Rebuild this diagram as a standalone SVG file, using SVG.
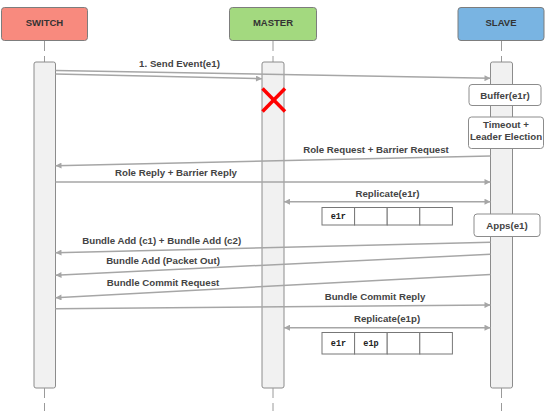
<svg xmlns="http://www.w3.org/2000/svg" width="546" height="416" viewBox="0 0 546 416">
<defs>
<marker id="ah" viewBox="0 0 10 10" refX="10" refY="5" markerWidth="9" markerHeight="6" markerUnits="userSpaceOnUse" orient="auto-start-reverse">
<path d="M0,0 L10,5 L0,10 z" fill="#a6a6a6"/>
</marker>
<style>
.hdr{stroke:#7d7d7d;stroke-width:1}
.ht{font-family:"Liberation Sans",Arial,sans-serif;font-weight:bold;font-size:9.5px;fill:#333;text-anchor:middle}
.life{stroke:#9a9a9a;stroke-width:1;stroke-dasharray:10 5}
.bar{fill:#f1f1f1;stroke:#8c8c8c;stroke-width:1}
.msg{stroke:#a6a6a6;stroke-width:1.5;fill:none}
.lbl{font-family:"Liberation Sans",Arial,sans-serif;font-weight:bold;font-size:9.7px;fill:#444;text-anchor:middle}
.box{fill:#fff;stroke:#8c8c8c;stroke-width:1}
.cell{fill:#fff;stroke:#777;stroke-width:1}
.mono{font-family:"Liberation Mono","DejaVu Sans Mono",monospace;font-weight:bold;font-size:8.5px;fill:#222;text-anchor:middle}
</style>
</defs>
<rect width="546" height="416" fill="#fff"/>

<g id="switch">
<rect class="hdr" x="1.5" y="7.5" width="86" height="33" rx="3" fill="#F88A7E"/>
<text class="ht" x="44.5" y="26">SWITCH</text>
<line class="life" x1="44.5" y1="41" x2="44.5" y2="62"/>
<rect class="bar" x="34" y="62" width="21.5" height="326" rx="2"/>
<line class="life" x1="44.5" y1="388" x2="44.5" y2="411"/>
</g>

<g id="master">
<rect class="hdr" x="229.5" y="7.5" width="87" height="33" rx="3" fill="#A3D97F"/>
<text class="ht" x="273" y="26">MASTER</text>
<line class="life" x1="273" y1="41" x2="273" y2="62"/>
<rect class="bar" x="262" y="62" width="22" height="326" rx="2"/>
<line class="life" x1="273" y1="388" x2="273" y2="411"/>
<g id="fail" stroke="#ff0000" stroke-width="3.5">
<line x1="262.5" y1="88.5" x2="285" y2="111.5"/>
<line x1="285" y1="88.5" x2="262.5" y2="111.5"/>
</g>
</g>

<g id="slave">
<rect class="hdr" x="458" y="7.5" width="86" height="33" rx="3" fill="#79B4E2"/>
<text class="ht" x="501" y="26">SLAVE</text>
<line class="life" x1="501.5" y1="41" x2="501.5" y2="62"/>
<rect class="bar" x="490.5" y="62" width="22" height="326" rx="2"/>
<line class="life" x1="501.5" y1="388" x2="501.5" y2="411"/>
</g>

<g id="buffer">
<rect class="box" x="469" y="84.5" width="72" height="21" rx="3"/>
<text class="lbl" x="505" y="98.5">Buffer(e1r)</text>
</g>
<g id="timeout">
<rect class="box" x="468.5" y="117" width="75" height="31.5" rx="3"/>
<text class="lbl" x="506" y="127.8">Timeout +</text>
<text class="lbl" x="506" y="139.8">Leader Election</text>
</g>
<g id="apps">
<rect class="box" x="474" y="214" width="66" height="22.5" rx="3"/>
<text class="lbl" x="507" y="228.5">Apps(e1)</text>
</g>

<g id="log1">
<rect class="cell" x="322" y="207.5" width="32.6" height="17.5"/>
<rect class="cell" x="354.6" y="207.5" width="32.6" height="17.5"/>
<rect class="cell" x="387.2" y="207.5" width="32.6" height="17.5"/>
<rect class="cell" x="419.8" y="207.5" width="32.6" height="17.5"/>
<text class="mono" x="338.3" y="218.5">e1r</text>
</g>
<g id="log2">
<rect class="cell" x="322" y="332.5" width="32.6" height="21.5"/>
<rect class="cell" x="354.6" y="332.5" width="32.6" height="21.5"/>
<rect class="cell" x="387.2" y="332.5" width="32.6" height="21.5"/>
<rect class="cell" x="419.8" y="332.5" width="32.6" height="21.5"/>
<text class="mono" x="338.5" y="345.5">e1r</text>
<text class="mono" x="371" y="345.5">e1p</text>
</g>

<g id="connectors">
<line class="msg" x1="55.5" y1="70.5" x2="490.5" y2="78.3" marker-end="url(#ah)"/>
<line class="msg" x1="55.5" y1="74" x2="262" y2="78.7" marker-end="url(#ah)"/>
<line class="msg" x1="490.5" y1="156" x2="55.5" y2="165.7" marker-end="url(#ah)"/>
<line class="msg" x1="55.5" y1="182" x2="490.5" y2="182" marker-end="url(#ah)"/>
<line class="msg" x1="284" y1="201.7" x2="490.5" y2="201.7" marker-start="url(#ah)" marker-end="url(#ah)"/>
<line class="msg" x1="490.5" y1="242.3" x2="55.5" y2="252.7" marker-end="url(#ah)"/>
<line class="msg" x1="490.5" y1="254.3" x2="55.5" y2="275.3" marker-end="url(#ah)"/>
<line class="msg" x1="490.5" y1="274.5" x2="55.5" y2="297.7" marker-end="url(#ah)"/>
<line class="msg" x1="55.5" y1="308.7" x2="490.5" y2="305" marker-end="url(#ah)"/>
<line class="msg" x1="284" y1="327.7" x2="490.5" y2="327.7" marker-start="url(#ah)" marker-end="url(#ah)"/>
</g>

<g id="labels">
<text class="lbl" x="179.5" y="66.8">1. Send Event(e1)</text>
<text class="lbl" x="376" y="152.5">Role Request + Barrier Request</text>
<text class="lbl" x="176" y="175.8">Role Reply + Barrier Reply</text>
<text class="lbl" x="387.5" y="196.5">Replicate(e1r)</text>
<text class="lbl" x="161.7" y="243.8">Bundle Add (c1) + Bundle Add (c2)</text>
<text class="lbl" x="163" y="264.2">Bundle Add (Packet Out)</text>
<text class="lbl" x="163" y="285.8">Bundle Commit Request</text>
<text class="lbl" x="375" y="300.2">Bundle Commit Reply</text>
<text class="lbl" x="387" y="322.2">Replicate(e1p)</text>
</g>
</svg>
